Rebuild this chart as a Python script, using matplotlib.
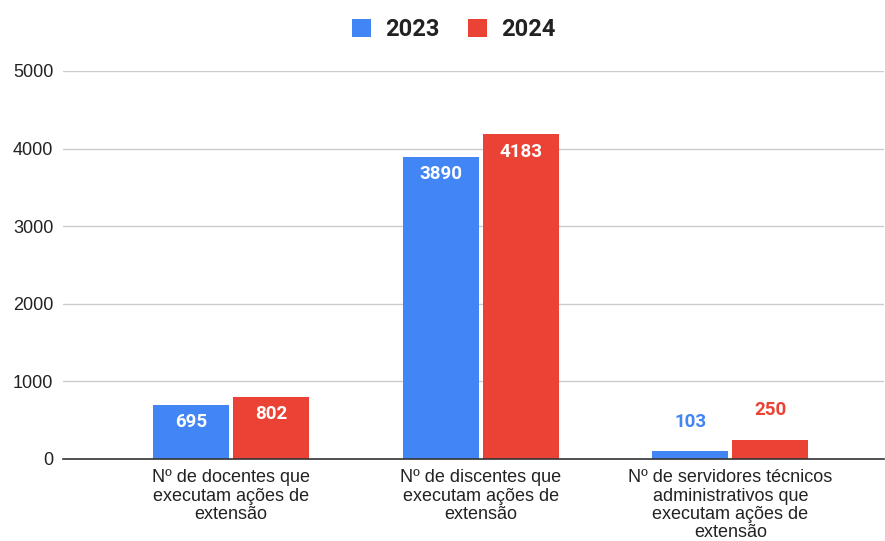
import matplotlib
matplotlib.use("Agg")
import matplotlib.pyplot as plt
import numpy as np

categories = [
    "Nº de docentes que\nexecutam ações de\nextensão",
    "Nº de discentes que\nexecutam ações de\nextensão",
    "Nº de servidores técnicos\nadministrativos que\nexecutam ações de\nextensão",
]
series_names = ["2023", "2024"]
values_2023 = [695, 3890, 103]
values_2024 = [802, 4183, 250]
y_ticks = [0, 1000, 2000, 3000, 4000, 5000]

colors = ["#4285F4", "#EA4335"]

fig = plt.figure(figsize=(8.85, 5.41), dpi=100)
ax = fig.add_axes([0.0712, 0.1516, 0.928, 0.7172])

x = np.arange(len(categories))
bar_w = 0.305
offset = 0.1605

for vals, name, col, off in [(values_2023, series_names[0], colors[0], -offset),
                             (values_2024, series_names[1], colors[1], offset)]:
    bars = ax.bar(x + off, vals, width=bar_w, color=col, label=name, zorder=3)
    for b, v in zip(bars, vals):
        cx = b.get_x() + b.get_width() / 2
        if v > 400:
            ax.annotate(f"{v}", (cx, v), xytext=(0, -12.5), textcoords="offset points",
                        ha="center", va="center", color="white", fontsize=13.5,
                        fontweight="bold", family="Roboto", zorder=4)
        else:
            ax.annotate(f"{v}", (cx, v), xytext=(0, 21), textcoords="offset points",
                        ha="center", va="center", color=col, fontsize=13.5,
                        fontweight="bold", family="Roboto", zorder=4)

ax.set_xlim(-0.673, 2.617)
ax.set_ylim(0, 5000)
ax.set_yticks(y_ticks)
ax.set_yticklabels([str(t) for t in y_ticks], family="Liberation Sans", fontsize=13, color="#222222")
ax.set_xticks(x)
ax.set_xticklabels(categories, family="Liberation Sans", fontsize=13, color="#222222",
                   linespacing=1.1)
ax.tick_params(axis="x", length=0, pad=7.5)
ax.tick_params(axis="y", length=0, pad=7)

ax.grid(axis="y", color="#cccccc", linewidth=1, zorder=0)
for s in ["top", "right", "left"]:
    ax.spines[s].set_visible(False)
ax.spines["bottom"].set_color("#333333")
ax.spines["bottom"].set_linewidth(1.2)
ax.spines["bottom"].set_zorder(5)

leg = fig.legend(loc="center", bbox_to_anchor=(0.513, 0.945), ncol=2, frameon=False,
                 prop={"family": "Roboto", "weight": "bold", "size": 17},
                 handlelength=0.78, handleheight=0.78, handletextpad=0.63, columnspacing=1.2)
for t in leg.get_texts():
    t.set_color("#222222")

fig.savefig("out.png", dpi=100)
